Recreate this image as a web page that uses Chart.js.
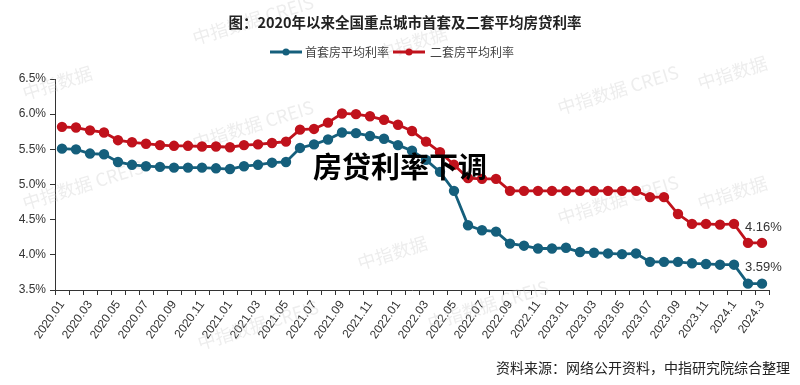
<!DOCTYPE html>
<html><head><meta charset="utf-8">
<script src="https://cdn.jsdelivr.net/npm/chart.js@4"></script>
<style>html,body{margin:0;padding:0;background:#fff}canvas{display:block}</style>
</head><body>
<canvas id="c" width="800" height="385"></canvas>
<script>
const categories = ["2020.01","2020.02","2020.03","2020.04","2020.05","2020.06","2020.07","2020.08","2020.09","2020.10","2020.11","2020.12",
"2021.01","2021.02","2021.03","2021.04","2021.05","2021.06","2021.07","2021.08","2021.09","2021.10","2021.11","2021.12",
"2022.01","2022.02","2022.03","2022.04","2022.05","2022.06","2022.07","2022.08","2022.09","2022.10","2022.11","2022.12",
"2023.01","2023.02","2023.03","2023.04","2023.05","2023.06","2023.07","2023.08","2023.09","2023.10","2023.11","2023.12",
"2024.1","2024.2","2024.3"];
const firstHome = [5.51,5.50,5.44,5.43,5.32,5.28,5.26,5.25,5.24,5.24,5.24,5.23,
5.22,5.26,5.28,5.31,5.32,5.52,5.57,5.64,5.74,5.73,5.69,5.65,
5.56,5.48,5.35,5.18,4.91,4.42,4.35,4.33,4.16,4.13,4.09,4.09,
4.10,4.04,4.03,4.02,4.01,4.02,3.90,3.90,3.90,3.88,3.87,3.86,
3.86,3.59,3.59];
const secondHome = [5.82,5.81,5.77,5.74,5.63,5.60,5.58,5.56,5.55,5.55,5.54,5.54,
5.53,5.56,5.57,5.59,5.61,5.78,5.79,5.88,6.01,6.00,5.97,5.92,
5.85,5.76,5.61,5.46,5.28,5.09,5.08,5.08,4.91,4.91,4.91,4.91,
4.91,4.91,4.91,4.91,4.91,4.91,4.82,4.82,4.58,4.44,4.44,4.43,
4.44,4.17,4.17];
const seriesNames = ["首套房平均利率","二套房平均利率"];
const endLabels = ["3.59%","4.16%"];
const yTicks = [3.5,4.0,4.5,5.0,5.5,6.0,6.5];
const titleText = "图：2020年以来全国重点城市首套及二套平均房贷利率";
const overlayText = "房贷利率下调";
const sourceText = "资料来源：网络公开资料，中指研究院综合整理";

const BLUE = "#155f7c", RED = "#c0121c";
const FONT = "'Liberation Sans', 'Noto Sans CJK SC', sans-serif";
const CJK = "'Noto Sans CJK SC', 'Liberation Sans', sans-serif";

function legendIcon(color){
  const c = document.createElement('canvas'); c.width = 32; c.height = 10;
  const g = c.getContext('2d');
  g.strokeStyle = color; g.lineWidth = 3; g.beginPath(); g.moveTo(0,5); g.lineTo(32,5); g.stroke();
  g.fillStyle = color; g.beginPath(); g.arc(16,5,3.5,0,Math.PI*2); g.fill();
  return c;
}

const decor = {
  id:'decor',
  beforeDatasetsDraw(chart){
    const ctx = chart.ctx; ctx.save();
    ctx.fillStyle = 'rgba(190,190,190,0.28)';
    ctx.font = "18px " + CJK;
    const marks = [[25,100,0],[195,45,1],[25,210,1],[195,150,1],[360,270,0],[200,350,1],[560,115,1],[560,225,1],[700,90,0],[700,210,0],[380,60,0],[430,330,1]];
    marks.forEach(([x,y,k])=>{ctx.save();ctx.translate(x,y);ctx.rotate(-0.3);ctx.fillText(k?"中指数据 CREIS":"中指数据",0,0);ctx.restore();});
    ctx.restore();
  },
  afterDraw(chart){
    const ctx = chart.ctx; ctx.save();
    ctx.textBaseline = 'middle';
    ctx.fillStyle = '#222'; ctx.font = "bold 14.5px " + CJK; ctx.textAlign = 'center';
    ctx.fillText(titleText, 405, 22);
    ctx.font = "12px " + CJK; ctx.fillStyle = '#444'; ctx.textAlign = 'left';
    ctx.drawImage(legendIcon(BLUE), 270, 47); ctx.fillText(seriesNames[0], 305, 52);
    ctx.drawImage(legendIcon(RED), 393, 47); ctx.fillText(seriesNames[1], 430, 52);
    ctx.fillStyle = '#000'; ctx.font = "bold 29px " + CJK; ctx.textAlign = 'center';
    ctx.fillText(overlayText, 400, 167);
    ctx.font = "13px " + FONT; ctx.fillStyle = '#333'; ctx.textAlign = 'left';
    const n = categories.length - 1;
    const xs = chart.scales.x, ys = chart.scales.y;
    ctx.fillText(endLabels[1], xs.getPixelForValue(n) - 17, ys.getPixelForValue(secondHome[n]) - 15);
    ctx.fillText(endLabels[0], xs.getPixelForValue(n) - 17, ys.getPixelForValue(firstHome[n]) - 16);
    ctx.font = "14px " + CJK; ctx.fillStyle = '#222'; ctx.textAlign = 'right';
    ctx.fillText(sourceText, 790, 368);
    ctx.restore();
  }
};

new Chart(document.getElementById('c'), {
  type:'line',
  data:{labels:categories, datasets:[
    {label:seriesNames[0], data:firstHome, borderColor:BLUE, backgroundColor:BLUE, borderWidth:2.8, pointRadius:3.8, pointHoverRadius:3.8, tension:0},
    {label:seriesNames[1], data:secondHome, borderColor:RED, backgroundColor:RED, borderWidth:2.8, pointRadius:3.8, pointHoverRadius:3.8, tension:0}
  ]},
  options:{
    responsive:false, animation:false, events:[],
    layout:{padding:{top:79,right:31,left:0,bottom:0}},
    plugins:{legend:{display:false}, title:{display:false}, tooltip:{enabled:false}},
    scales:{
      x:{
        offset:true,
        grid:{offset:true, drawOnChartArea:false, drawTicks:true, tickLength:5, color:'#333'},
        border:{display:true, color:'#333', width:1},
        ticks:{autoSkip:false, maxRotation:55, minRotation:55, color:'#333', font:{family:FONT, size:12}, padding:3,
          callback:function(v,i){return i%2===0 ? categories[i] : '';}},
        afterFit(s){s.height = 95;}
      },
      y:{
        min:3.5, max:6.5,
        afterBuildTicks(s){s.ticks = yTicks.map(v=>({value:v}));},
        grid:{drawOnChartArea:false, drawTicks:true, tickLength:5, color:'#333'},
        border:{display:true, color:'#333', width:1},
        ticks:{color:'#333', font:{family:FONT, size:12}, padding:4, callback:v=>v.toFixed(1)+'%'},
        afterFit(s){s.width = 55;}
      }
    }
  },
  plugins:[decor]
});
</script>
</body></html>
